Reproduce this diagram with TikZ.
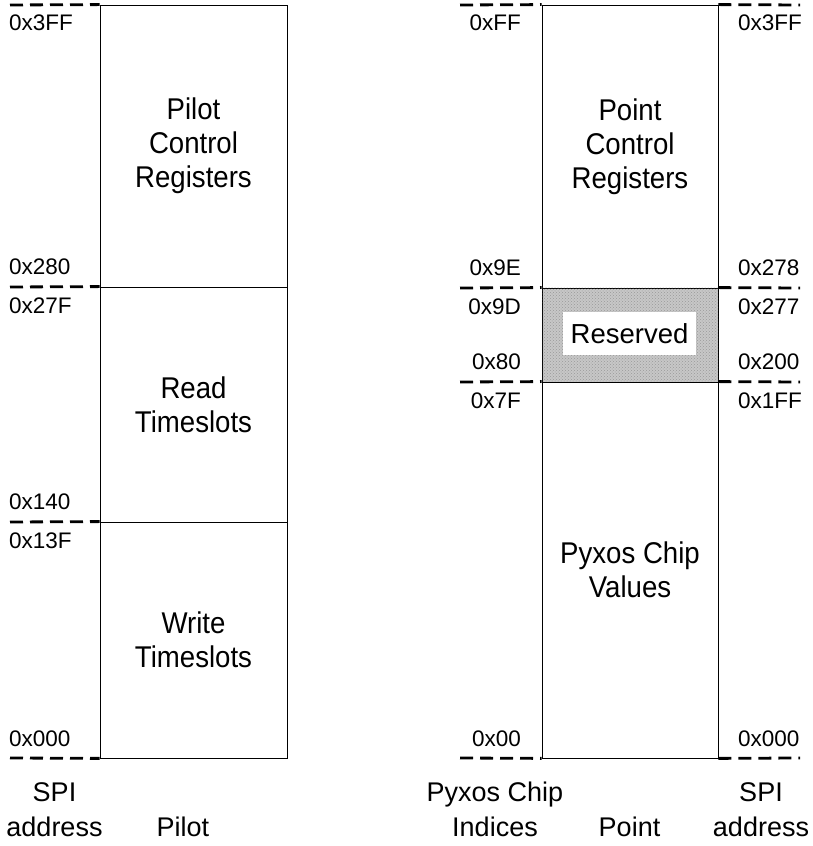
\documentclass[tikz,border=0pt]{standalone}
\usepackage{fontspec}
\setmainfont{Liberation Sans}
\newfontfamily\narrowsans{Liberation Sans}[FakeStretch=0.92]
\usepackage{tikz}
\usetikzlibrary{patterns}
\newcommand{\boxfont}{\narrowsans\fontsize{30}{34}\selectfont}
\newcommand{\tagfont}{\fontsize{27.5}{33}\selectfont}
\newcommand{\addrfont}{\fontsize{22.5}{27}\selectfont}
\newcommand{\capfont}{\fontsize{27}{35}\selectfont}
\tikzset{
  region/.style={
    draw=black,
    line width=0.8pt,
    align=center,
    inner sep=0pt,
    font=\boxfont
  },
  pilotreg/.style={region, minimum width=187pt},
  pointreg/.style={region, minimum width=176pt},
  hatched/.style={
    fill=black!22,
    postaction={pattern=crosshatch dots, pattern color=black!40}
  },
  tag/.style={fill=white, inner sep=0pt, minimum width=133pt, minimum height=43pt, font=\tagfont},
  addr/.style={inner sep=0pt, font=\addrfont},
  caption/.style={inner sep=0pt, align=center, anchor=south, font=\capfont},
  boundary/.style={line width=2.8pt, dash pattern=on 13pt off 7pt}
}

\begin{document}
\begin{tikzpicture}[x=1pt,y=1pt]
\useasboundingbox (0,0) rectangle (812,846);

% Pilot map
\node[pilotreg, minimum height=282pt] (pilotctl) at (193.5,700) {Pilot\\Control\\Registers};
\node[pilotreg, minimum height=235pt] (readts) at (193.5,441.5) {Read\\Timeslots};
\node[pilotreg, minimum height=236pt] (writets) at (193.5,206) {Write\\Timeslots};

% Point map
\node[pointreg, minimum height=283pt] (pointctl) at (630,699.5) {Point\\Control\\Registers};
\node[pointreg, minimum height=94pt, hatched] (reserved) at (630,511) {};
\node[tag] (resvtag) at (629.5,512.5) {Reserved};
\node[pointreg, minimum height=376pt] (values) at (630,276) {Pyxos Chip\\Values};

% dashed boundary ends
\coordinate (pa) at (10,841);
\coordinate (pb) at (10,559);
\coordinate (pc) at (10,324);
\coordinate (pd) at (10,88);
\coordinate (ia) at (460,841);
\coordinate (ib) at (460,558);
\coordinate (ic) at (460,464);
\coordinate (id) at (460,88);
\coordinate (sa) at (800,841);
\coordinate (sb) at (800,558);
\coordinate (sc) at (800,464);
\coordinate (sd) at (800,88);

\draw[boundary] (pa) -- (pilotctl.north west);
\draw[boundary] (pb) -- (readts.north west);
\draw[boundary] (pc) -- (writets.north west);
\draw[boundary] (pd) -- (writets.south west);

\draw[boundary] (ia) -- (pointctl.north west);
\draw[boundary] (ib) -- (reserved.north west);
\draw[boundary] (ic) -- (values.north west);
\draw[boundary] (id) -- (values.south west);
\draw[boundary] (pointctl.north east) -- (sa);
\draw[boundary] (reserved.north east) -- (sb);
\draw[boundary] (values.north east) -- (sc);
\draw[boundary] (values.south east) -- (sd);

% Pilot SPI addresses
\node[addr, anchor=west] (p3ff) at (9,823) {0x3FF};
\node[addr, anchor=west] (p280) at (9,579) {0x280};
\node[addr, anchor=west] (p27f) at (9,540) {0x27F};
\node[addr, anchor=west] (p140) at (9,344) {0x140};
\node[addr, anchor=west] (p13f) at (9,305) {0x13F};
\node[addr, anchor=west] (p000) at (9,107) {0x000};

% Pyxos chip indices
\node[addr, anchor=east] (iff) at (521,823) {0xFF};
\node[addr, anchor=east] (i9e) at (521,578) {0x9E};
\node[addr, anchor=east] (i9d) at (521,539) {0x9D};
\node[addr, anchor=east] (i80) at (521,484) {0x80};
\node[addr, anchor=east] (i7f) at (521,445) {0x7F};
\node[addr, anchor=east] (i00) at (521,107) {0x00};

% Point SPI addresses
\node[addr, anchor=west] (s3ff) at (738,823) {0x3FF};
\node[addr, anchor=west] (s278) at (738,578) {0x278};
\node[addr, anchor=west] (s277) at (738,539) {0x277};
\node[addr, anchor=west] (s200) at (738,484) {0x200};
\node[addr, anchor=west] (s1ff) at (738,445) {0x1FF};
\node[addr, anchor=west] (s000) at (738,107) {0x000};

% column captions
\node[caption] (spileft) at (54.5,9) {SPI\\address};
\node[caption] (pilotcap) at (183,9) {Pilot};
\node[caption] (idxcap) at (495,9) {Pyxos Chip\\Indices};
\node[caption] (pointcap) at (629.5,9) {Point};
\node[caption] (spiright) at (761,9) {SPI\\address};
\end{tikzpicture}
\end{document}
